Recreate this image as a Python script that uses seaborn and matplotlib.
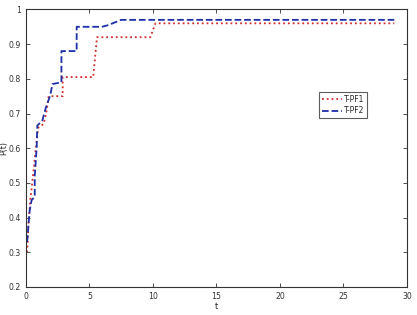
import matplotlib
matplotlib.use("Agg")
import matplotlib.pyplot as plt
import seaborn as sns
import pandas as pd

sns.set_theme(style="white")
plt.rcParams['font.family'] = ['DejaVu Sans']

# T-PF1 (red dotted)
t1 = [0.1, 0.2, 0.35, 0.5, 0.7, 0.9, 1.0, 1.4, 1.6, 1.8, 2.9, 2.9, 5.3, 5.6, 9.8, 10.2, 29.0]
p1 = [0.30, 0.38, 0.45, 0.50, 0.57, 0.64, 0.66, 0.67, 0.70, 0.75, 0.75, 0.805, 0.805, 0.92, 0.92, 0.96, 0.96]
# T-PF2 (blue dashed)
t2 = [0.1, 0.3, 0.45, 0.7, 0.7, 0.85, 0.9, 1.3, 1.6, 1.9, 2.1, 2.8, 2.8, 4.0, 4.0, 6.0, 6.5, 7.5, 29.0]
p2 = [0.33, 0.42, 0.45, 0.46, 0.52, 0.60, 0.665, 0.68, 0.72, 0.75, 0.785, 0.79, 0.88, 0.88, 0.95, 0.95, 0.955, 0.97, 0.97]

xticks = [0, 5, 10, 15, 20, 25, 30]
yticks = [0.2, 0.3, 0.4, 0.5, 0.6, 0.7, 0.8, 0.9, 1.0]
ytick_labels = ["0.2", "0.3", "0.4", "0.5", "0.6", "0.7", "0.8", "0.9", "1"]

df1 = pd.DataFrame({"t": t1, "P": p1})
df2 = pd.DataFrame({"t": t2, "P": p2})

fig = plt.figure(figsize=(4.17, 3.15), dpi=100)
ax = fig.add_axes([0.062, 0.089, 0.914, 0.881])
sns.lineplot(data=df1, x="t", y="P", ax=ax, sort=False, estimator=None, errorbar=None,
             color="#d42a2a", linestyle=":", linewidth=1.3, label="T-PF1")
sns.lineplot(data=df2, x="t", y="P", ax=ax, sort=False, estimator=None, errorbar=None,
             color="#1c2fa8", linestyle="--", linewidth=1.3, dashes=(4, 2), label="T-PF2")

ax.set_xlim(0, 30)
ax.set_ylim(0.2, 1.0)
ax.set_xticks(xticks)
ax.set_xticklabels([str(x) for x in xticks])
ax.set_yticks(yticks)
ax.set_yticklabels(ytick_labels)
ax.tick_params(direction="in", length=3, width=0.6, labelsize=5.6, colors="#333333",
               top=True, right=True, left=True, bottom=True, pad=3.5)
for s in ax.spines.values():
    s.set_color("#333333")
    s.set_linewidth(0.8)
ax.set_xlabel("t", fontsize=6, labelpad=1)
ax.set_ylabel("P(t)", fontsize=5.8)
ax.yaxis.set_label_coords(-0.047, 0.5)

leg = ax.legend(loc="upper left", bbox_to_anchor=(0.76, 0.715), fontsize=5.5,
                frameon=True, fancybox=False, handlelength=2.6, borderpad=0.35,
                labelspacing=0.3, handletextpad=0.3)
leg.get_frame().set_edgecolor("#333333")
leg.get_frame().set_linewidth(0.8)

fig.savefig("out.png", dpi=100)
